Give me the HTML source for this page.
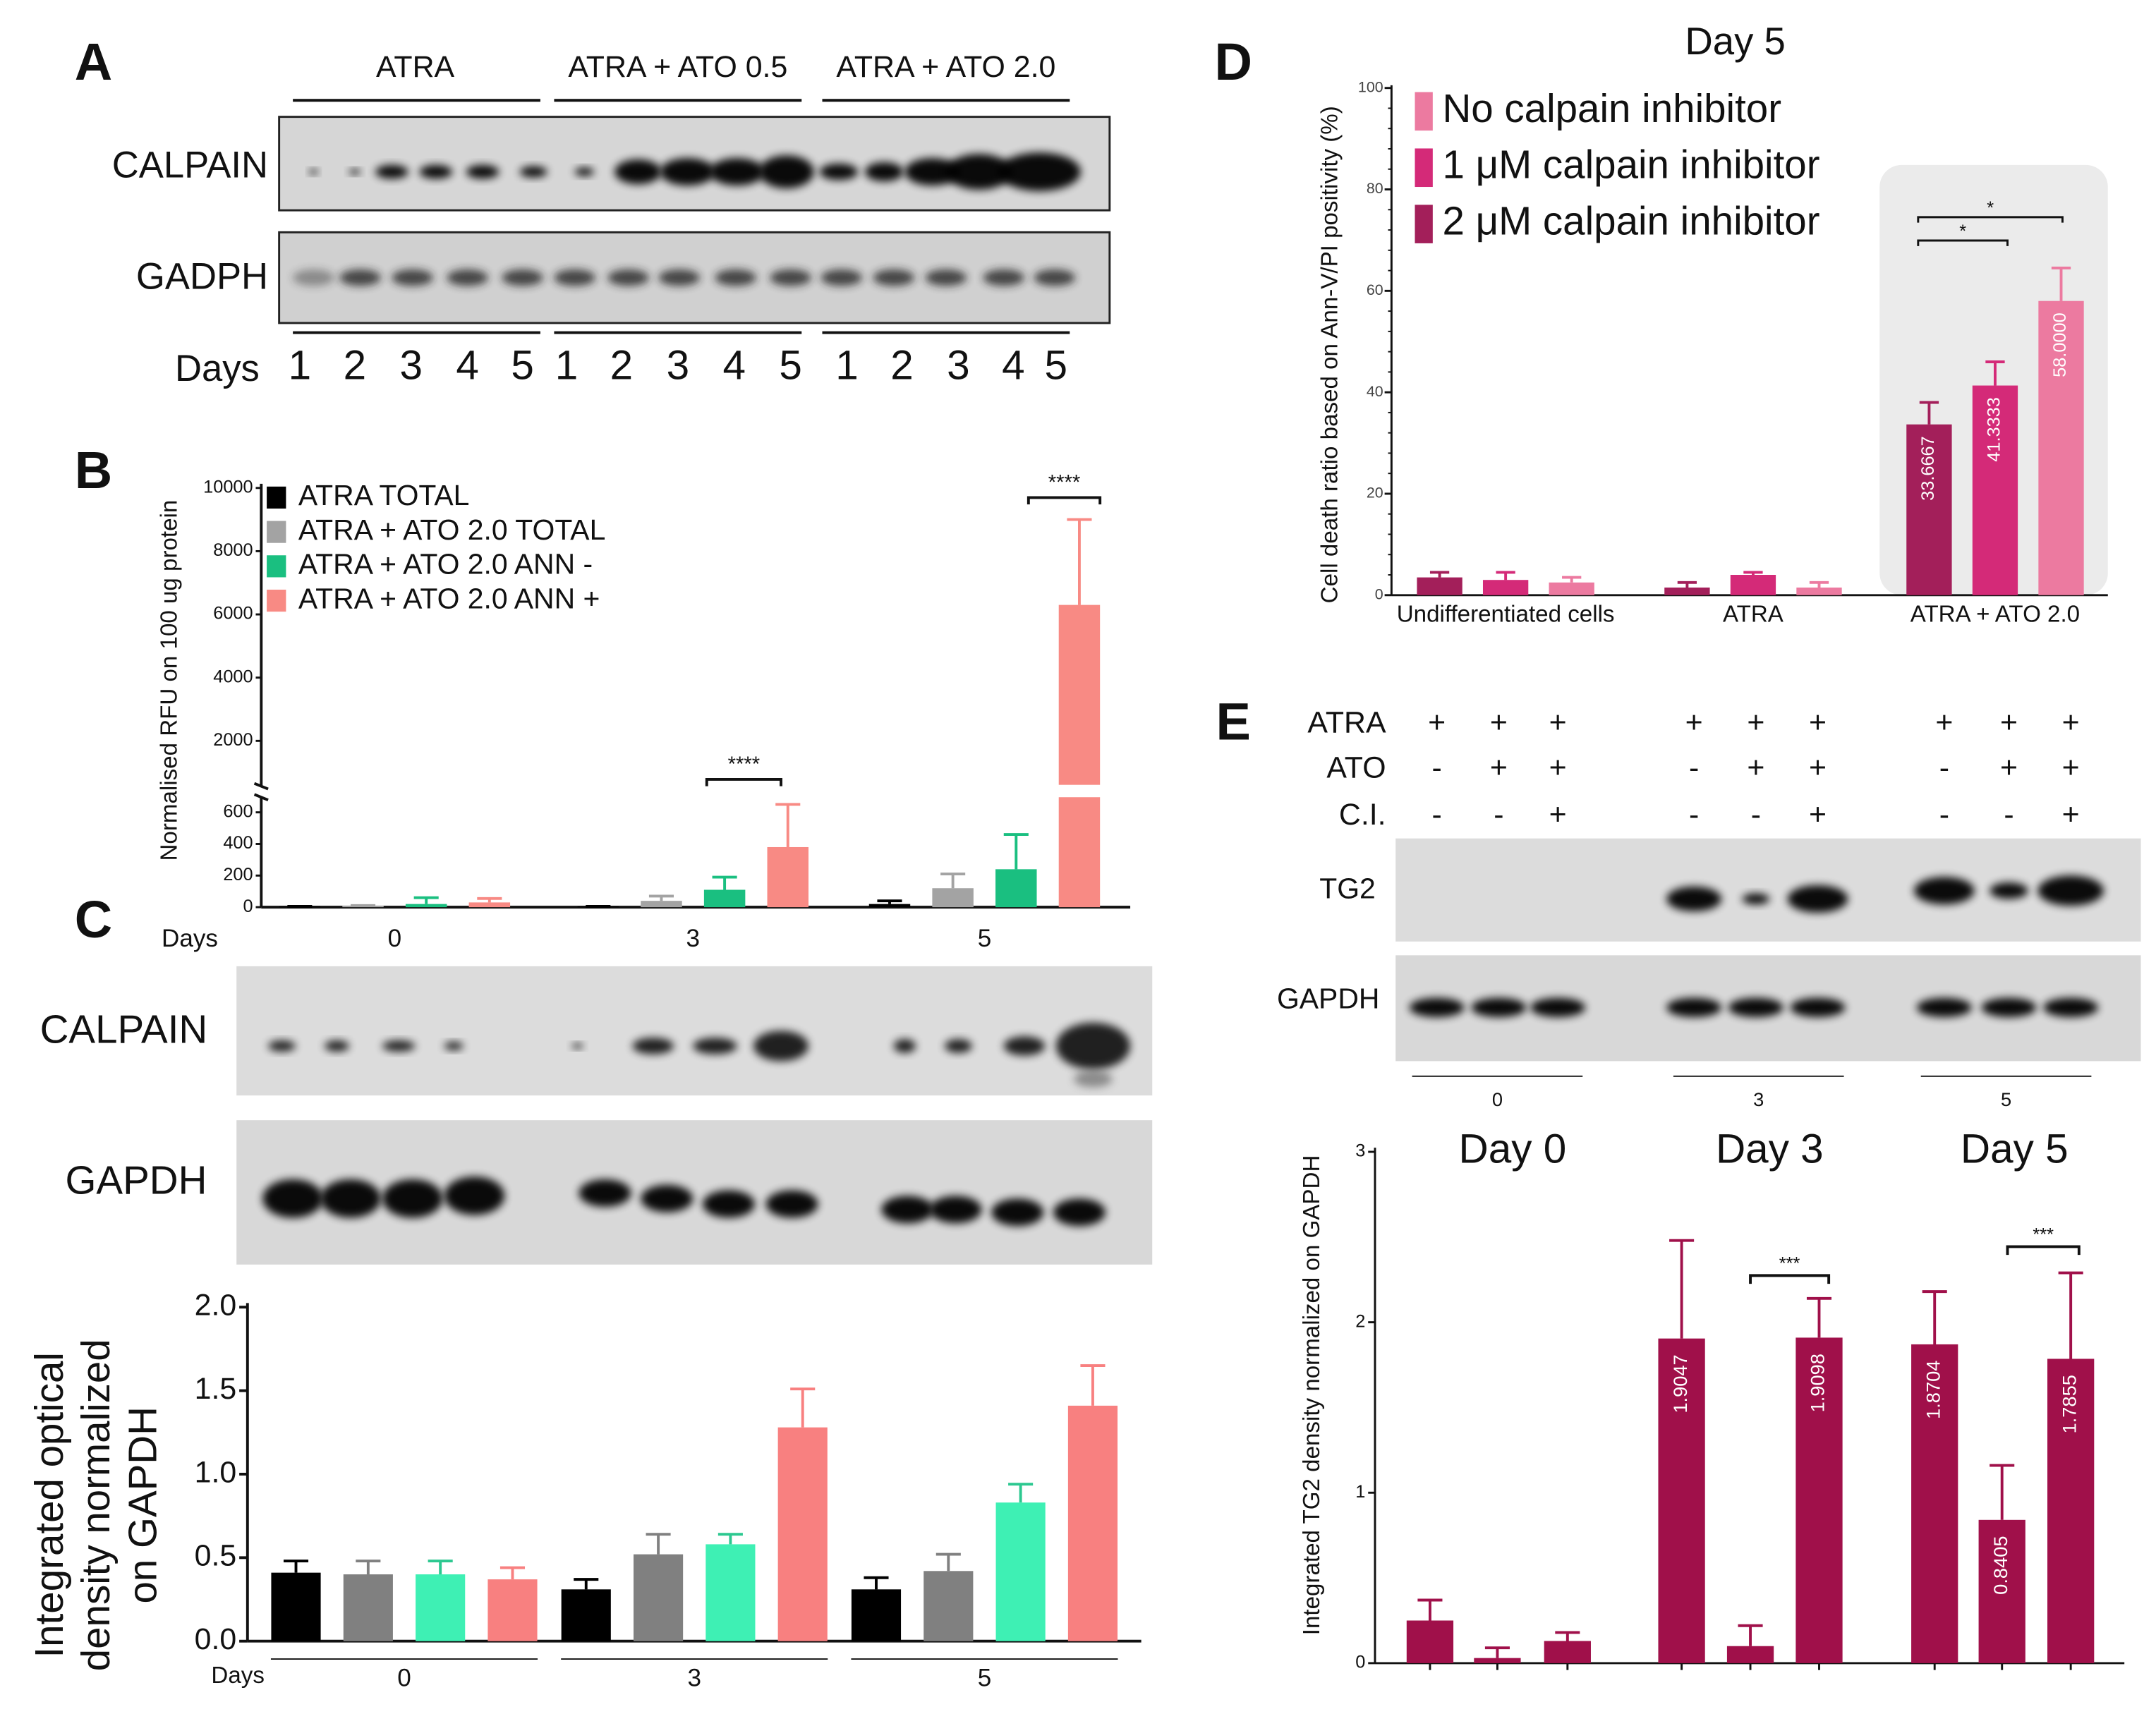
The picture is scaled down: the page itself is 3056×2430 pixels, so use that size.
<!DOCTYPE html>
<html><head><meta charset="utf-8">
<style>
html,body{margin:0;padding:0;background:#fff;}
svg{display:block;font-family:"Liberation Sans",Arial,sans-serif;}
</style></head>
<body>
<svg id="fig" width="3056" height="2430" viewBox="0 0 1568 1247" preserveAspectRatio="none" xmlns="http://www.w3.org/2000/svg">
<defs>
<filter id="blur" x="-50%" y="-50%" width="200%" height="200%"><feGaussianBlur stdDeviation="3"/></filter>
<filter id="blur2" x="-50%" y="-50%" width="200%" height="200%"><feGaussianBlur stdDeviation="4"/></filter>
</defs>
</svg>
<script>
// ---------- Panel B data ----------
const bCategories = ["0", "3", "5"];
const bSeriesNames = ["ATRA TOTAL", "ATRA + ATO 2.0 TOTAL", "ATRA + ATO 2.0 ANN -", "ATRA + ATO 2.0 ANN +"];
const bValues = [[5, 5, 20], [10, 40, 120], [20, 110, 240], [30, 380, 6300]];
const bErrTop = [[5, 5, 40], [10, 70, 210], [60, 190, 460], [55, 650, 9000]];
const bTicksTop = [2000, 4000, 6000, 8000, 10000];
const bTicksBottom = [0, 200, 400, 600];
// ---------- Panel C data ----------
const cCategories = ["0", "3", "5"];
const cValues = [[0.41, 0.31, 0.31], [0.40, 0.52, 0.42], [0.40, 0.58, 0.83], [0.37, 1.28, 1.41]];
const cErrTop = [[0.48, 0.37, 0.38], [0.48, 0.64, 0.52], [0.48, 0.64, 0.94], [0.44, 1.51, 1.65]];
const cTicks = ["0.0", "0.5", "1.0", "1.5", "2.0"];
// ---------- Panel D data ----------
const dCategories = ["Undifferentiated cells", "ATRA", "ATRA + ATO 2.0"];
const dSeriesNames = ["2 \u03bcM calpain inhibitor", "1 \u03bcM calpain inhibitor", "No calpain inhibitor"];
const dValues = [[3.5, 1.5, 33.6667], [3, 4, 41.3333], [2.5, 1.5, 58.0]];
const dErrTop = [[4.5, 2.5, 38], [4.5, 4.5, 46], [3.5, 2.5, 64.5]];
const dLabels = [["", "", "33.6667"], ["", "", "41.3333"], ["", "", "58.0000"]];
const dTicks = [0, 20, 40, 60, 80, 100];
// ---------- Panel E data ----------
const eCategories = ["Day 0", "Day 3", "Day 5"];
const eValues = [[0.25, 0.03, 0.13], [1.9047, 0.10, 1.9098], [1.8704, 0.8405, 1.7855]];
const eErrTop = [[0.37, 0.09, 0.18], [2.48, 0.22, 2.14], [2.18, 1.16, 2.29]];
const eLabels = [["", "", ""], ["1.9047", "", "1.9098"], ["1.8704", "0.8405", "1.7855"]];
const eTicks = [0, 1, 2, 3];

const svg = document.getElementById('fig');
const NS = 'http://www.w3.org/2000/svg';
function mk(tag, attrs, parent) {
  const el = document.createElementNS(NS, tag);
  for (const k in attrs) el.setAttribute(k, attrs[k]);
  (parent || svg).appendChild(el);
  return el;
}
function txt(x, y, s, size, extra) {
  const a = Object.assign({x: x, y: y, 'font-size': size, fill: '#111', 'text-anchor': 'middle', 'dominant-baseline': 'middle'}, extra || {});
  const t = mk('text', a);
  t.textContent = s;
  return t;
}
function line(x1, y1, x2, y2, w, c) {
  return mk('line', {x1: x1, y1: y1, x2: x2, y2: y2, stroke: c || '#111', 'stroke-width': w || 1.5});
}
function errBar(x, y0, y1, hw, c) {
  const g = mk('path', {d: `M${x},${y0}V${y1}M${x - hw},${y1}H${x + hw}`, stroke: c, 'stroke-width': 2, fill: 'none'});
  return g;
}

// ================= PANEL A =================
let t = txt(68, 48, 'A', 38, {'font-weight': 'bold'});


const aGroups = [["ATRA", 302, 213, 393], ["ATRA + ATO 0.5", 493, 403, 583], ["ATRA + ATO 2.0", 688, 598, 778]];
aGroups.forEach(g => {
  t = txt(g[1], 50, g[0], 22);
  
  
  line(g[2], 73, g[3], 73, 2);
});
let r = mk('rect', {x: 203, y: 85, width: 604, height: 68, fill: '#d6d6d6', stroke: '#222', 'stroke-width': 1.5});


r = mk('rect', {x: 203, y: 169, width: 604, height: 66, fill: '#d0d0d0', stroke: '#222', 'stroke-width': 1.5});


t = txt(195, 122, 'CALPAIN', 27, {'text-anchor': 'end'});


t = txt(195, 203, 'GADPH', 27, {'text-anchor': 'end'});


const aLanes = [228, 258, 285, 317, 351, 388, 425, 464, 500, 536, 572, 610, 643, 678, 712, 756];
const aCalW = [3, 4, 12, 12, 12, 10, 7, 17, 20, 20, 20, 14, 14, 20, 24, 30];
const aCalH = [2, 2, 5, 5, 5, 4, 3, 9, 10, 10, 12, 6, 7, 10, 13, 14];
const aLanesG = [228, 262, 300, 340, 380, 418, 457, 494, 535, 575, 612, 650, 688, 730, 767];
aLanes.forEach((x, i) => {
  const e = mk('ellipse', {cx: x, cy: 125, rx: aCalW[i], ry: aCalH[i], fill: '#000', filter: 'url(#blur)', opacity: 0.95});
  
  
});
aLanesG.forEach((x, i) => {
  const e = mk('ellipse', {cx: x, cy: 202, rx: 15, ry: 6, fill: '#222', filter: 'url(#blur)', opacity: i === 0 ? 0.4 : 0.8});
  
  
});
[[213, 393], [403, 583], [598, 778]].forEach(p => line(p[0], 242, p[1], 242, 2));
t = txt(158, 270, 'Days', 27);


const aDayX = [218, 258, 299, 340, 380, 412, 452, 493, 534, 575, 616, 656, 697, 737, 768];
const aDayL = ["1","2","3","4","5","1","2","3","4","5","1","2","3","4","5"];
aDayX.forEach((x, i) => {
  t = txt(x, 268, aDayL[i], 30);
  
  
});

// ================= PANEL B =================
t = txt(68, 345, 'B', 38, {'font-weight': 'bold'});


function bY(v) { return v <= 650 ? 660 - v * 0.115 : 585 - v * 0.023; }
const bAxisX = 190, bGroupC = [287, 504, 716], bStep = 46, bW = 30;
const bColors = ['#000000', '#a3a3a3', '#1abf80', '#f88a84'];
line(bAxisX, 352, bAxisX, 572, 2);
line(bAxisX, 580, bAxisX, 660, 2);
line(bAxisX - 5, 570, bAxisX + 5, 574, 2);
line(bAxisX - 5, 578, bAxisX + 5, 582, 2);
line(bAxisX, 660, 822, 660, 2);
bTicksTop.forEach(v => {
  const y = bY(v);
  line(bAxisX - 4, y, bAxisX, y, 1.5);
  t = txt(bAxisX - 6, y, String(v), 13, {'text-anchor': 'end'});
  
  
});
bTicksBottom.forEach(v => {
  const y = bY(v);
  line(bAxisX - 4, y, bAxisX, y, 1.5);
  t = txt(bAxisX - 6, y, String(v), 13, {'text-anchor': 'end'});
  
  
});
t = txt(124, 495, 'Normalised RFU on 100 ug protein', 17, {transform: 'rotate(-90 124 495)'});


bValues.forEach((series, s) => {
  series.forEach((v, g) => {
    const x = bGroupC[g] + (s - 1.5) * bStep;
    errBar(x, bY(v), bY(bErrTop[s][g]), 9, bColors[s]);
    const b = mk('rect', {x: x - bW / 2, y: bY(v), width: bW, height: 660 - bY(v), fill: bColors[s]});
    
    
    if (v > 650) mk('rect', {x: x - bW / 2 - 1, y: 571, width: bW + 2, height: 9, fill: '#fff'});
  });
});
bCategories.forEach((c, g) => {
  t = txt(bGroupC[g], 684, c, 18);
  
  
});
t = txt(138, 684, 'Days', 18);


bSeriesNames.forEach((n, i) => {
  const y = 362 + i * 25;
  const sq = mk('rect', {x: 194, y: y - 8, width: 14, height: 16, fill: bColors[i]});
  
  
  t = txt(217, y, n, 21, {'text-anchor': 'start'});
  
  
});
[[514, 568, 567, 541], [748, 800, 362, 774]].forEach(s => {
  mk('path', {d: `M${s[0]},${s[2] + 5}V${s[2]}H${s[1]}V${s[2] + 5}`, stroke: '#111', 'stroke-width': 2, fill: 'none'});
  t = txt(s[3], s[2] - 10, '****', 15);
  
  
});

// ================= PANEL C =================
t = txt(68, 672, 'C', 38, {'font-weight': 'bold'});


r = mk('rect', {x: 172, y: 703, width: 666, height: 94, fill: '#dcdcdc'});


r = mk('rect', {x: 172, y: 815, width: 666, height: 105, fill: '#d8d8d8'});


t = txt(90, 751, 'CALPAIN', 29);


t = txt(99, 861, 'GAPDH', 29);


const cCalX = [205, 245, 290, 330, 420, 475, 520, 568, 658, 697, 745, 795];
const cCalW = [10, 9, 12, 7, 4, 15, 16, 20, 8, 10, 15, 27];
const cCalH = [4, 4, 4, 3, 2, 6, 6, 11, 5, 5, 7, 17];
cCalX.forEach((x, i) => {
  const e = mk('ellipse', {cx: x, cy: 761, rx: cCalW[i], ry: cCalH[i], fill: '#000', filter: 'url(#blur)', opacity: 0.85});
  
  
});
mk('ellipse', {cx: 795, cy: 785, rx: 14, ry: 6, fill: '#555', filter: 'url(#blur)', opacity: 0.6});
const cGapX = [213, 255, 300, 345, 440, 485, 530, 576, 660, 695, 740, 785];
const cGapY = [872, 872, 872, 870, 868, 872, 876, 876, 880, 880, 882, 882];
cGapX.forEach((x, i) => {
  const e = mk('ellipse', {cx: x, cy: cGapY[i], rx: i < 4 ? 22 : 19, ry: i < 4 ? 14 : 10, fill: '#000', filter: 'url(#blur)', opacity: 0.95});
  
  
});
function cY(v) { return 1194 - v * 121.5; }
const cGroupC = [294, 505, 716], cStep = 52.5, cW = 36;
const cColors = ['#000000', '#808080', '#3ef0b4', '#f88080'];
line(180, 948, 180, 1194, 2);
line(180, 1194, 830, 1194, 2);
cTicks.forEach(s => {
  const y = cY(parseFloat(s));
  line(174, y, 180, y, 2);
  t = txt(172, y, s, 22, {'text-anchor': 'end'});
  
  
});
cValues.forEach((series, s) => {
  series.forEach((v, g) => {
    const x = cGroupC[g] + (s - 1.5) * cStep;
    errBar(x, cY(v), cY(cErrTop[s][g]), 9, cColors[s] === '#3ef0b4' ? '#2cc890' : cColors[s]);
    const b = mk('rect', {x: x - cW / 2, y: cY(v), width: cW, height: 1194 - cY(v), fill: cColors[s]});
    
    
  });
});
[['Integrated optical', 38], ['density normalized', 72], ['on GAPDH', 106]].forEach(p => {
  t = txt(p[1], 1095, p[0], 29, {transform: `rotate(-90 ${p[1]} 1095)`});
  
  
});
t = txt(173, 1220, 'Days', 17);


cCategories.forEach((c, g) => {
  line(cGroupC[g] - 97, 1207, cGroupC[g] + 97, 1207, 1);
  t = txt(cGroupC[g], 1222, c, 18);
  
  
});

// ================= PANEL D =================
t = txt(897, 48, 'D', 38, {'font-weight': 'bold'});


t = txt(1262, 32, 'Day 5', 28);


r = mk('rect', {x: 1367, y: 120, width: 166, height: 313, rx: 16, fill: '#ebebeb'});


function dY(v) { return 433 - v * 3.69; }
const dAxisX = 1012;
const dGroupC = [1095, 1275, 1451], dStep = 48, dW = 33;
const dColors = ['#a31f5a', '#d42a78', '#ec7aa0'];
line(dAxisX, 62, dAxisX, 433, 1.5);
line(dAxisX, 433, 1533, 433, 1.5);
for (let v = 0; v <= 100; v += 4) line(dAxisX - 2.5, dY(v), dAxisX, dY(v), 1);
dTicks.forEach(v => {
  line(dAxisX - 5, dY(v), dAxisX, dY(v), 1.5);
  t = txt(dAxisX - 6, dY(v), String(v), 11, {'text-anchor': 'end', fill: '#444'});
  
  
});
t = txt(968, 258, 'Cell death ratio based on Ann-V/PI positivity (%)', 17, {transform: 'rotate(-90 968 258)'});


dValues.forEach((series, s) => {
  series.forEach((v, g) => {
    const x = dGroupC[g] + (s - 1) * dStep;
    errBar(x, dY(v), dY(dErrTop[s][g]), 7, dColors[s]);
    const b = mk('rect', {x: x - dW / 2, y: dY(v), width: dW, height: 433 - dY(v), fill: dColors[s]});
    
    
    if (dLabels[s][g]) {
      const ly = dY(v) + 32;
      t = txt(x, ly, dLabels[s][g], 13, {fill: '#fff', transform: `rotate(-90 ${x} ${ly})`});
      
      
    }
  });
});
dCategories.forEach((c, g) => {
  t = txt(dGroupC[g], 448, c, 17);
  
  
});
const dLegOrder = [2, 1, 0];
["No calpain inhibitor", "1 \u03bcM calpain inhibitor", "2 \u03bcM calpain inhibitor"].forEach((n, i) => {
  const y = 81 + i * 41;
  const sq = mk('rect', {x: 1029, y: y - 14, width: 13, height: 28, fill: dColors[dLegOrder[i]]});
  
  
  t = txt(1049, y, n, 29, {'text-anchor': 'start'});
  
  
});
[[1395, 1460, 175], [1395, 1500, 158]].forEach(s => {
  mk('path', {d: `M${s[0]},${s[2] + 4}V${s[2]}H${s[1]}V${s[2] + 4}`, stroke: '#111', 'stroke-width': 1.5, fill: 'none'});
  t = txt((s[0] + s[1]) / 2, s[2] - 6, '*', 13);
  
  
});

// ================= PANEL E =================
t = txt(897, 528, 'E', 38, {'font-weight': 'bold'});


const eLaneX = [1045, 1090, 1133, 1232, 1277, 1322, 1414, 1461, 1506];
const eRows = [["ATRA", 527, "+++++++++"], ["ATO", 560, "-++-++-++"], ["C.I.", 594, "--+--+--+"]];
eRows.forEach(row => {
  t = txt(1008, row[1], row[0], 22, {'text-anchor': 'end'});
  
  
  eLaneX.forEach((x, i) => {
    t = txt(x, row[1], row[2][i], 22);
    
    
  });
});
r = mk('rect', {x: 1015, y: 610, width: 542, height: 75, fill: '#dcdcdc'});


r = mk('rect', {x: 1015, y: 695, width: 542, height: 77, fill: '#d8d8d8'});


t = txt(980, 648, 'TG2', 21);


t = txt(966, 728, 'GAPDH', 21);


const eTgX = [1232, 1277, 1322, 1414, 1461, 1506];
const eTgW = [20, 10, 22, 22, 14, 24];
const eTgH = [9, 4, 10, 10, 6, 11];
eTgX.forEach((x, i) => {
  const e = mk('ellipse', {cx: x, cy: i < 3 ? 654 : 648, rx: eTgW[i], ry: eTgH[i], fill: '#000', filter: 'url(#blur)', opacity: 0.95});
  
  
});
eLaneX.forEach((x, i) => {
  const e = mk('ellipse', {cx: x, cy: 733, rx: 20, ry: 7, fill: '#000', filter: 'url(#blur)', opacity: 0.95});
  
  
});
const eGroupC = [1089, 1279, 1459];
["0", "3", "5"].forEach((c, g) => {
  line(eGroupC[g] - 62, 783, eGroupC[g] + 62, 783, 1);
  t = txt(eGroupC[g], 801, c, 14);
  
  
});
function eY(v) { return 1210 - v * 124; }
const eBarX = [[1040, 1089, 1140], [1223, 1273, 1323], [1407, 1456, 1506]], eW = 34;
const eColor = '#a0104a';
line(1000, 835, 1000, 1210, 1.5);
line(1000, 1210, 1545, 1210, 1.5);
eTicks.forEach(v => {
  line(995, eY(v), 1000, eY(v), 1.5);
  t = txt(993, eY(v), String(v), 13, {'text-anchor': 'end'});
  
  
});
t = txt(955, 1015, 'Integrated TG2 density normalized on GAPDH', 17, {transform: 'rotate(-90 955 1015)'});


eCategories.forEach((c, g) => {
  t = txt([1100, 1287, 1465][g], 838, c, 30);
  
  
});
eValues.forEach((group, g) => {
  group.forEach((v, s) => {
    const x = eBarX[g][s];
    line(x, 1210, x, 1215, 1.5);
    errBar(x, eY(v), eY(eErrTop[g][s]), 9, eColor);
    const b = mk('rect', {x: x - eW / 2, y: eY(v), width: eW, height: 1210 - eY(v), fill: eColor});
    
    
    if (eLabels[g][s]) {
      const ly = eY(v) + 33;
      t = txt(x, ly, eLabels[g][s], 14, {fill: '#fff', transform: `rotate(-90 ${x} ${ly})`});
      
      
    }
  });
});
[[1273, 1330, 928], [1460, 1512, 907]].forEach(s => {
  mk('path', {d: `M${s[0]},${s[2] + 6}V${s[2]}H${s[1]}V${s[2] + 6}`, stroke: '#111', 'stroke-width': 2, fill: 'none'});
  t = txt((s[0] + s[1]) / 2, s[2] - 8, '***', 13);
  
  
});
</script>
</body></html>
